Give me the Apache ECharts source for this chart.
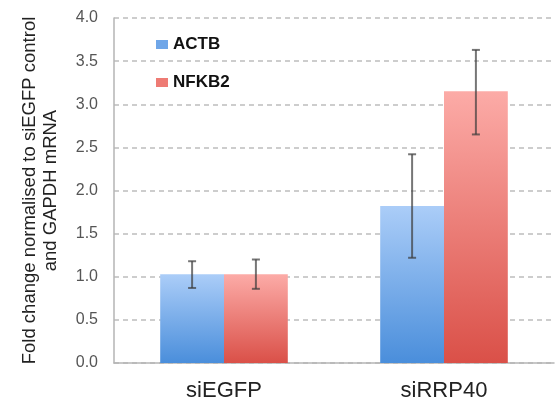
<!DOCTYPE html>
<html><head><meta charset="utf-8">
<script src="https://cdn.jsdelivr.net/npm/echarts@6/dist/echarts.min.js"></script>
<style>html,body{margin:0;padding:0;background:#fff}#c{width:555px;height:403px}</style>
</head><body><div id="c"></div>
<script>
const categories = ['siEGFP', 'siRRP40'];
const actb = [1.03, 1.82];
const nfkb2 = [1.03, 3.15];
const actbErrLow = [0.87, 1.22];
const actbErrHigh = [1.18, 2.42];
const nfkb2ErrLow = [0.86, 2.65];
const nfkb2ErrHigh = [1.20, 3.63];
const yTicks = [0, 0.5, 1, 1.5, 2, 2.5, 3, 3.5, 4];

const GAP = 0.42;
function errSeries(low, high, side, color) {
  return {
    type: 'custom',
    z: 10,
    silent: true,
    data: categories.map((c, i) => [i, low[i], high[i]]),
    renderItem: function (params, api) {
      const i = api.value(0);
      const pLow = api.coord([i, api.value(1)]);
      const pHigh = api.coord([i, api.value(2)]);
      const band = api.size([1, 0])[0];
      const group = band * (1 - GAP);
      const x = pLow[0] + side * group / 4;
      const cap = 4;
      const st = { stroke: color, lineWidth: 2 };
      return {
        type: 'group',
        children: [
          { type: 'line', shape: { x1: x, y1: pLow[1], x2: x, y2: pHigh[1] }, style: st },
          { type: 'line', shape: { x1: x - cap, y1: pLow[1], x2: x + cap, y2: pLow[1] }, style: st },
          { type: 'line', shape: { x1: x - cap, y1: pHigh[1], x2: x + cap, y2: pHigh[1] }, style: st }
        ]
      };
    }
  };
}
const grad = (top, bottom) => new echarts.graphic.LinearGradient(0, 0, 0, 1, [
  { offset: 0, color: top }, { offset: 1, color: bottom }
]);

const chart = echarts.init(document.getElementById('c'));
chart.setOption({
  animation: false,
  grid: { left: 114, right: 1, top: 18, bottom: 40 },
  legend: {
    orient: 'vertical', left: 151, top: 31, itemGap: 21,
    itemWidth: 12, itemHeight: 9, icon: 'rect',
    textStyle: { fontFamily: 'Liberation Sans', fontWeight: 'bold', fontSize: 17, color: '#111' },
    data: [
      { name: 'ACTB', itemStyle: { color: '#6fa6e8' } },
      { name: 'NFKB2', itemStyle: { color: '#ee7b74' } }
    ]
  },
  xAxis: {
    type: 'category', data: categories,
    axisLine: { lineStyle: { color: '#b5b5b5', width: 1.5 } },
    axisTick: { show: false },
    axisLabel: { fontFamily: 'Liberation Sans', fontSize: 22, color: '#222', margin: 17 }
  },
  yAxis: {
    type: 'value', min: 0, max: 4, interval: 0.5,
    name: 'Fold change normalised to siEGFP control\nand GAPDH mRNA',
    nameLocation: 'middle', nameGap: 53,
    nameTextStyle: { fontFamily: 'Liberation Sans', fontSize: 18.5, color: '#222', lineHeight: 21 },
    axisLine: { show: true, lineStyle: { color: '#b5b5b5', width: 1.5 } },
    axisTick: { show: false },
    axisLabel: { fontFamily: 'Liberation Sans', fontSize: 16, color: '#555', margin: 16,
      formatter: v => yTicks.includes(v) ? v.toFixed(1) : '' },
    splitLine: { lineStyle: { color: '#bdbdbd', type: [5, 4], width: 1.5 } }
  },
  series: [
    { name: 'ACTB', type: 'bar', data: actb, barGap: '0%', barCategoryGap: (GAP * 100) + '%',
      itemStyle: { color: grad('#abcdf8', '#4a8edb') } },
    { name: 'NFKB2', type: 'bar', data: nfkb2, barGap: '0%', barCategoryGap: (GAP * 100) + '%',
      itemStyle: { color: grad('#fcaba7', '#da5048') } },
    errSeries(actbErrLow, actbErrHigh, -1, 'rgba(60,60,60,0.7)'),
    errSeries(nfkb2ErrLow, nfkb2ErrHigh, 1, 'rgba(60,60,60,0.7)')
  ]
});
</script></body></html>
